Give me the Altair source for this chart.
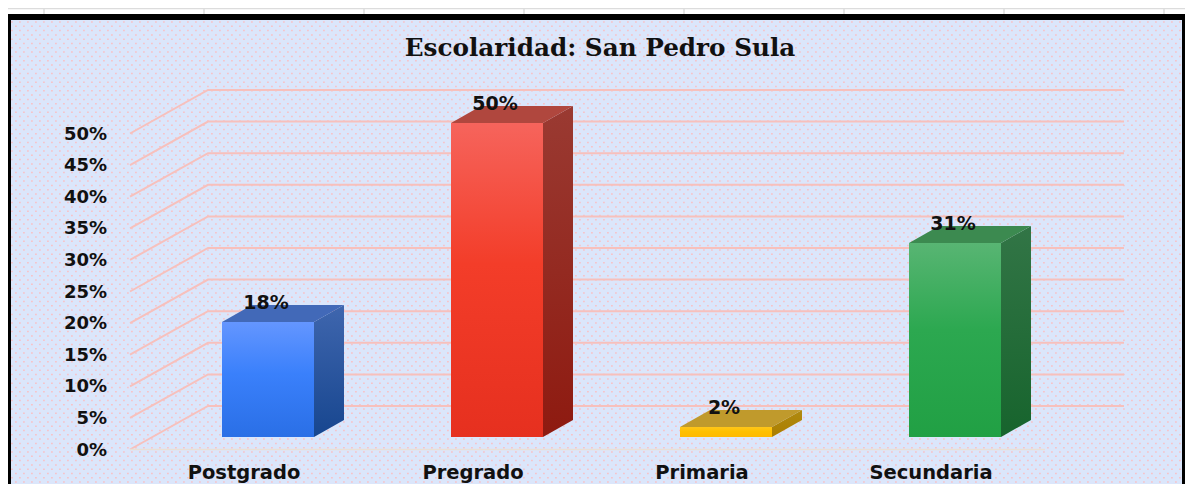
import altair as alt
import pandas as pd

categories = ["Postgrado", "Pregrado", "Primaria", "Secundaria"]
values = [18.2, 49.7, 1.6, 30.7]
tick_labels = [0, 5, 10, 15, 20, 25, 30, 35, 40, 45, 50]
front_colors = [("#6496ff", "#3a80fb", "#2a6fe6"), ("#f6645c", "#f33d29", "#e6301f"),
                ("#ffc61a", "#ffc000", "#ffb900"), ("#58b573", "#2ca850", "#21a044")]
side_colors = [("#3f66ae", "#17468f"), ("#9a3a32", "#8e1a10"), ("#b08a10", "#ab7e00"), ("#327546", "#17642d")]
top_colors = ["#4269b8", "#b0473e", "#c09a2c", "#3c8a50"]
sheet_ticks = [44, 204, 364, 524, 684, 844, 1004, 1164]

W, H = 1177, 476
PX_CAT, PX_PCT = 229.0, 6.32
X0_IMG, Y0_IMG = 268.0, 449.5          # first category centre, 0 % on the front axis
BAR_BASE = (449.5 - 437) / PX_PCT      # bars stand in the middle of the floor
BAR_HALF = 46 / PX_CAT
BAR_DX, BAR_DY = 30 / PX_CAT, 17 / PX_PCT
WALL_DY = 43.5 / PX_PCT


def xu(px):
    return (px - X0_IMG) / PX_CAT


xs = alt.Scale(domain=[xu(8), xu(8 + W)], nice=False, zero=False)
ys = alt.Scale(domain=[(Y0_IMG - (8 + H)) / PX_PCT, (Y0_IMG - 8) / PX_PCT], nice=False, zero=False)
X = lambda f="x": alt.X(f"{f}:Q", scale=xs, axis=None)
Y = lambda f="y": alt.Y(f"{f}:Q", scale=ys, axis=None)
one = pd.DataFrame({"a": [0]})


def grad(*cols):
    n = len(cols) - 1
    offs = [0, 0.45, 1] if n == 2 else [0, 1]
    return alt.Gradient(gradient="linear", x1=0, x2=0, y1=0, y2=1,
                        stops=[alt.GradientStop(offset=o, color=c) for o, c in zip(offs, cols)])


layers = []
# sheet gridlines, frame, plot background
layers.append(alt.Chart(one).mark_rule(color="#dcdcdc", strokeWidth=1.5).encode(
    x=alt.value(0), x2=alt.value(W), y=alt.value(0.5)))
layers.append(alt.Chart(pd.DataFrame({"x": [xu(t) for t in sheet_ticks]})).mark_rule(color="#dcdcdc", strokeWidth=1.5).encode(
    x=X(), y=alt.value(0), y2=alt.value(6)))
layers.append(alt.Chart(one).mark_rect(color="#000000").encode(
    x=alt.value(0), x2=alt.value(W), y=alt.value(6), y2=alt.value(H)))
layers.append(alt.Chart(one).mark_rect(color="#dbe6fb").encode(
    x=alt.value(3), x2=alt.value(W - 3), y=alt.value(12), y2=alt.value(H)))

# dotted fill texture
for phase, off in ((0, 0), (1, 4)):
    rows = [(Y0_IMG - (22 + 4.3 * i)) / PX_PCT for i in range(phase, 108, 2)]
    layers.append(alt.Chart(pd.DataFrame({"y": rows})).mark_rule(
        color="#f6c4ca", strokeWidth=1.5, strokeDash=[1.8, 6.2], strokeDashOffset=off).encode(
        x=alt.value(3), x2=alt.value(W - 3), y=Y()))

# wall gridlines
grid = []
for t in tick_labels:
    grid += [{"t": t, "o": 0, "x": xu(130), "y": t},
             {"t": t, "o": 1, "x": xu(208), "y": t + WALL_DY},
             {"t": t, "o": 2, "x": xu(1124), "y": t + WALL_DY}]
layers.append(alt.Chart(pd.DataFrame(grid)).mark_line(color="#f7c0bc", strokeWidth=2).encode(
    x=X(), y=Y(), detail="t:N", order="o:Q"))
layers.append(alt.Chart(pd.DataFrame({"x": [xu(130)], "x2": [xu(1045)], "y": [0]})).mark_rule(
    color="#e9e0d6", strokeWidth=1.5).encode(x=X(), x2="x2:Q", y=Y()))

# bars
for i, v in enumerate(values):
    L, R = i - BAR_HALF, i + BAR_HALF
    B, T = BAR_BASE, BAR_BASE + v
    side = pd.DataFrame({"x": [R, R + BAR_DX], "y": [T, T + BAR_DY], "y2": [B, B + BAR_DY]})
    layers.append(alt.Chart(side).mark_area(color=grad(*side_colors[i]), opacity=1, line=False).encode(
        x=X(), y=Y(), y2="y2:Q"))
    top = pd.DataFrame({"x": [L, L + BAR_DX, R, R + BAR_DX],
                        "y": [T, T + BAR_DY, T + BAR_DY, T + BAR_DY],
                        "y2": [T, T, T, T + BAR_DY]})
    layers.append(alt.Chart(top).mark_area(color=top_colors[i], opacity=1, line=False).encode(
        x=X(), y=Y(), y2="y2:Q"))
    front = pd.DataFrame({"x": [L], "x2": [R], "y": [T], "y2": [B]})
    layers.append(alt.Chart(front).mark_rect(color=grad(*front_colors[i])).encode(
        x=X(), x2="x2:Q", y=Y(), y2="y2:Q"))

FONT = "DejaVu Sans"
# value labels
vdf = pd.DataFrame({"x": list(range(4)), "y": [BAR_BASE + v for v in values],
                    "t": [f"{round(v)}%" for v in values]})
layers.append(alt.Chart(vdf).mark_text(font=FONT, fontWeight="bold", fontSize=19, color="#111111", dx=-2, dy=-18.5).encode(
    x=X(), y=Y(), text="t:N"))
# axis labels
tdf = pd.DataFrame({"x": [xu(107)] * len(tick_labels), "y": tick_labels, "t": [f"{t}%" for t in tick_labels]})
layers.append(alt.Chart(tdf).mark_text(font=FONT, fontWeight="bold", fontSize=18, color="#111111", align="right", dy=1).encode(
    x=X(), y=Y(), text="t:N"))
cdf = pd.DataFrame({"x": list(range(4)), "y": [(Y0_IMG - 472) / PX_PCT] * 4, "t": categories})
layers.append(alt.Chart(cdf).mark_text(font=FONT, fontWeight="bold", fontSize=19.5, color="#111111", dx=-24, dy=1).encode(
    x=X(), y=Y(), text="t:N"))
# title
ttl = pd.DataFrame({"x": [xu(600)], "y": [(Y0_IMG - 47) / PX_PCT], "t": ["Escolaridad: San Pedro Sula"]})
layers.append(alt.Chart(ttl).mark_text(font="DejaVu Serif", fontWeight="bold", fontSize=24.7, color="#111111", dy=2).encode(
    x=X(), y=Y(), text="t:N"))

chart = alt.layer(*layers).properties(
    width=W, height=H, padding=0, background="#ffffff",
    autosize=alt.AutoSizeParams(type="none"),
).configure_view(stroke=None)

chart.save("out.html", embed_options={"renderer": "svg", "actions": False})
